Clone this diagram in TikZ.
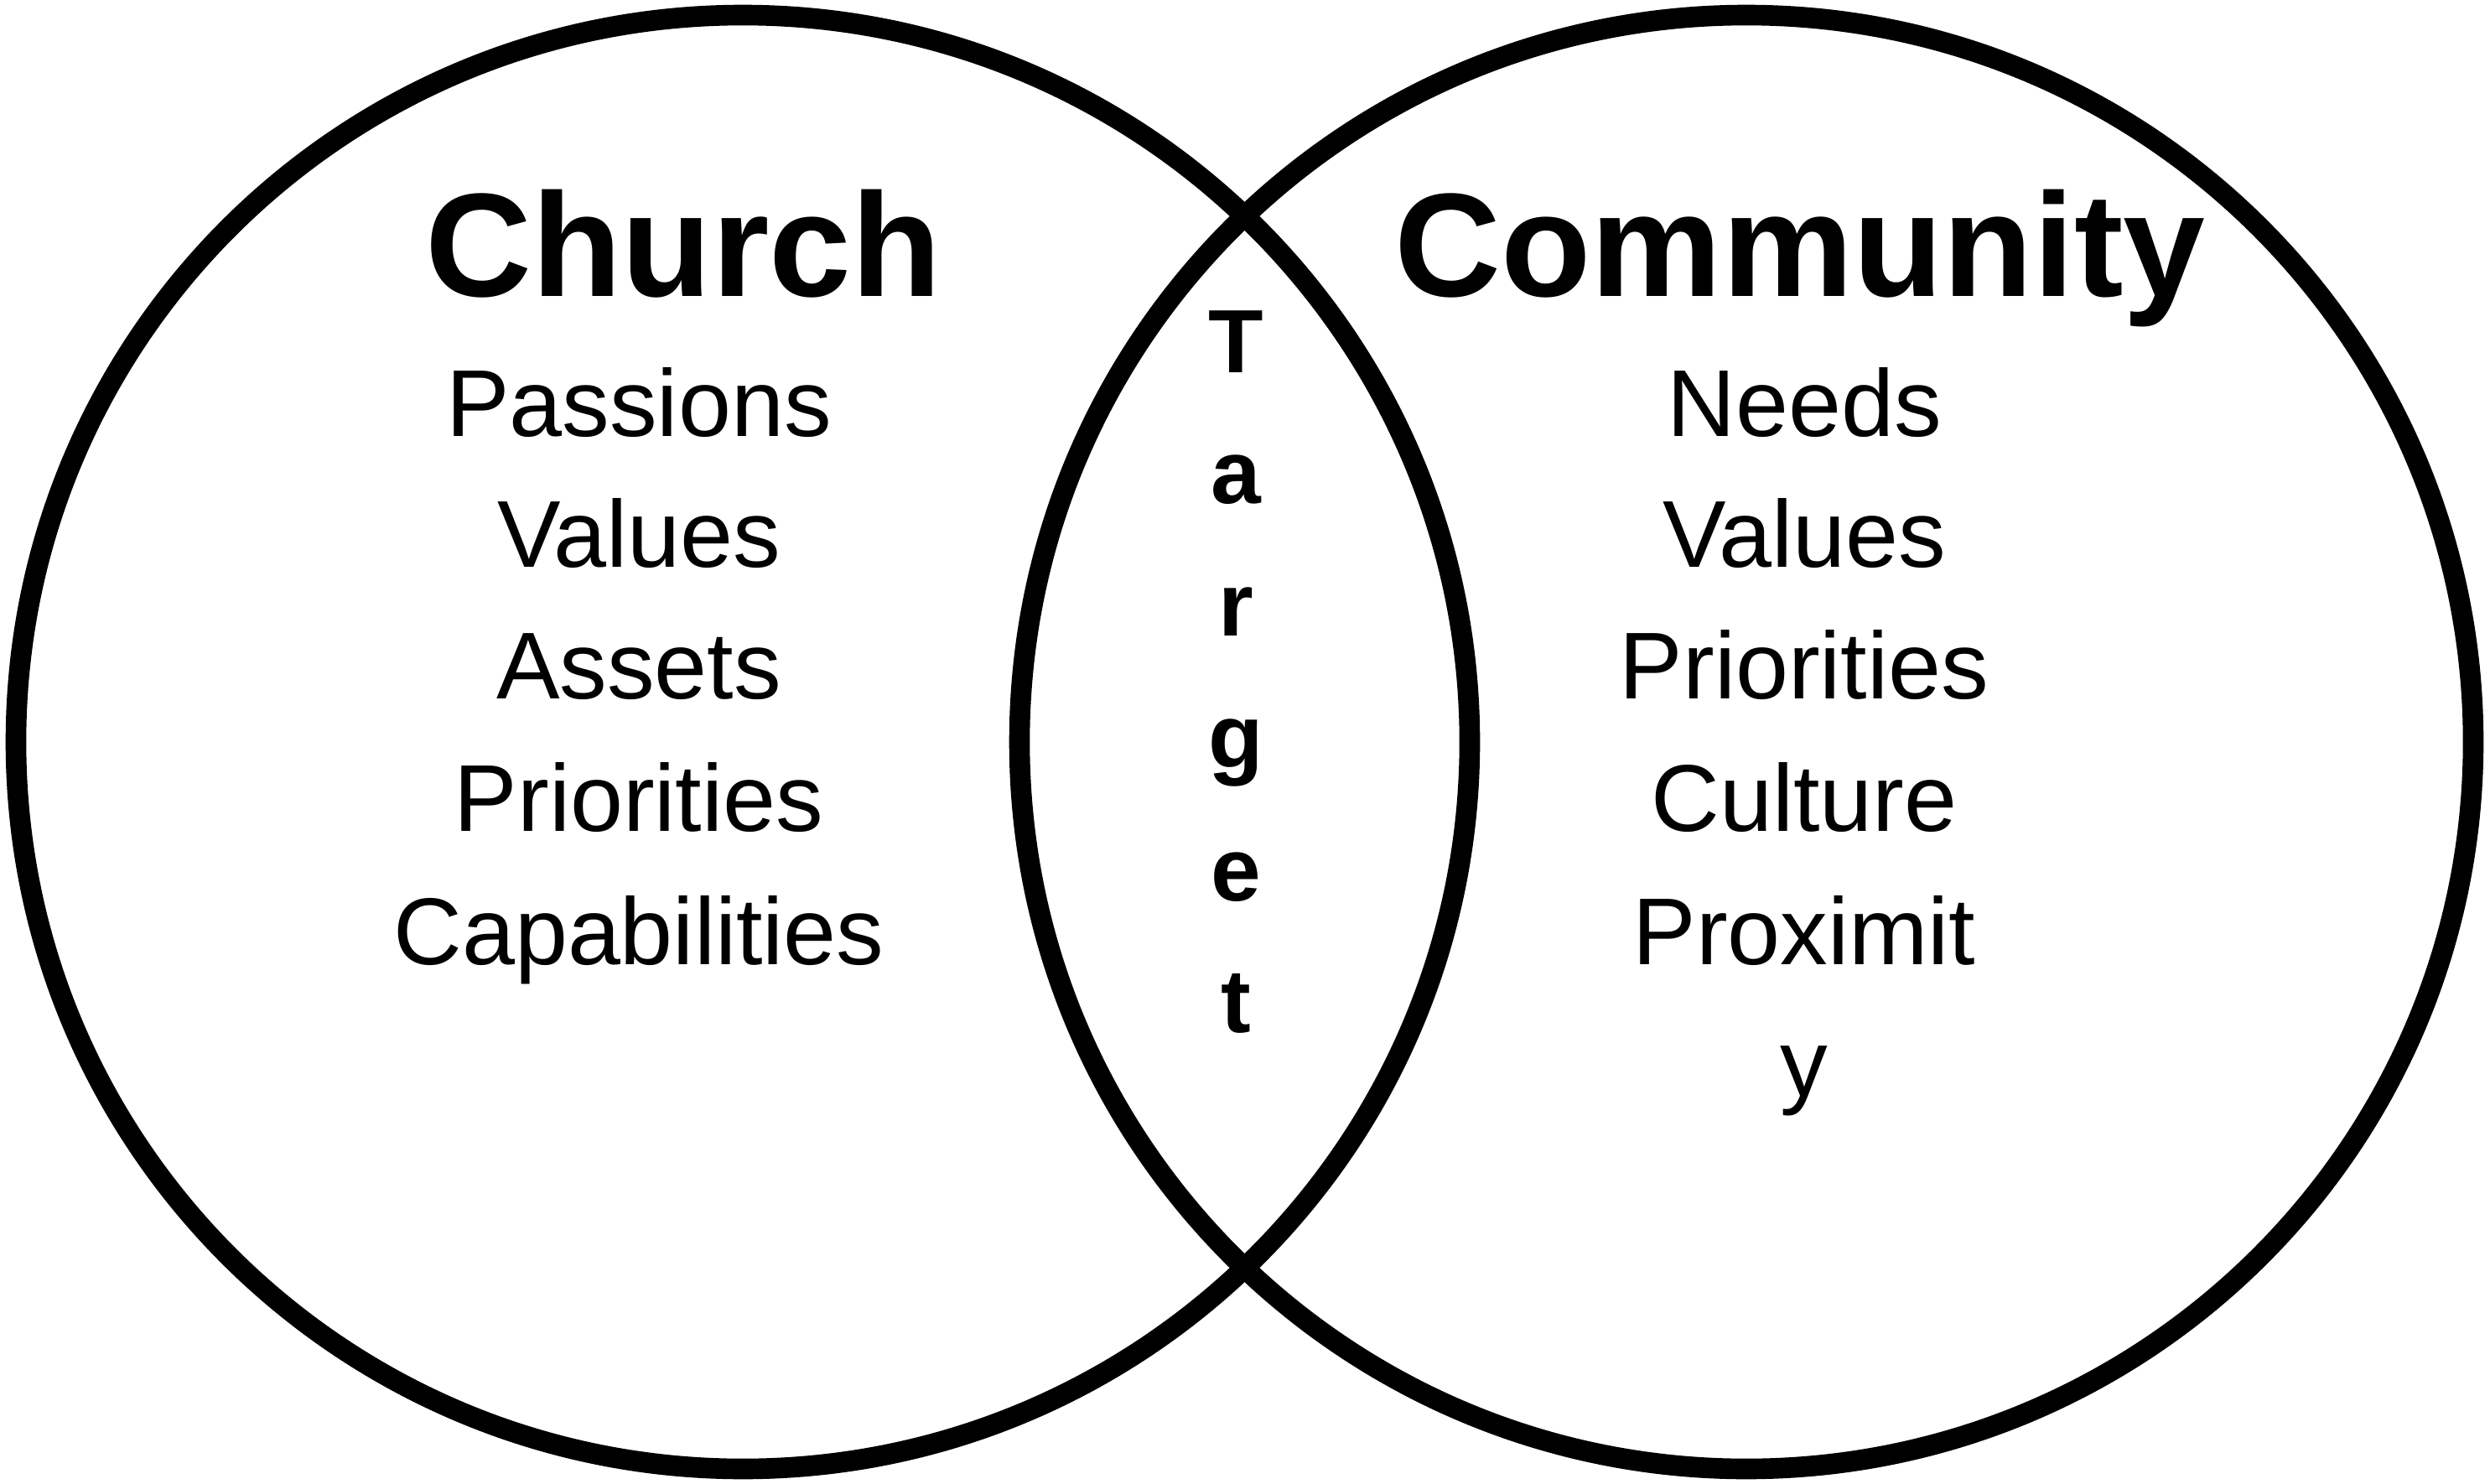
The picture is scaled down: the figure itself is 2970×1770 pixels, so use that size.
\documentclass[tikz,border=0pt]{standalone}
\usepackage{fontspec}
\setmainfont{Liberation Sans}
\begin{document}
\begin{tikzpicture}[x=0.01cm,y=-0.01cm,
  ring/.style={line width=7pt},
  title/.style={anchor=base, inner sep=0pt, font=\bfseries\fontsize{50pt}{60pt}\selectfont},
  item/.style={anchor=base, inner sep=0pt, font=\fontsize{32.2pt}{38pt}\selectfont},
  tgt/.style={anchor=base, inner sep=0pt, font=\bfseries\fontsize{30.5pt}{36pt}\selectfont}]
\useasboundingbox (0,0) rectangle (2970,1770);
\coordinate (cL) at (886,885);
\coordinate (cR) at (2083,885);
\draw[ring] (cL) circle[radius=867];
\draw[ring] (cR) circle[radius=867];
% titles
\node[title] (church) at (815,354) {Church};
\node[title] (community) at (2147,354) {Community};
% church items
\node[item] (l1) at (762,521) {Passions};
\node[item] (l2) at (762,676) {Values};
\node[item] (l3) at (762,833) {Assets};
\node[item] (l4) at (762,991) {Priorities};
\node[item] (l5) at (762,1150) {Capabilities};
% community items
\node[item] (r1) at (2152,521) {Needs};
\node[item] (r2) at (2152,676) {Values};
\node[item] (r3) at (2152,833) {Priorities};
\node[item] (r4) at (2152,991) {Culture};
\node[item] (r5) at (2152,1150) {Proximit};
\node[item] (r6) at (2152,1307) {y};
% target
\node[tgt] (t1) at (1474,445) {T};
\node[tgt] (t2) at (1474,600) {a};
\node[tgt] (t3) at (1474,758) {r};
\node[tgt] (t4) at (1474,915) {g};
\node[tgt] (t5) at (1474,1074) {e};
\node[tgt] (t6) at (1474,1231) {t};
\end{tikzpicture}
\end{document}
